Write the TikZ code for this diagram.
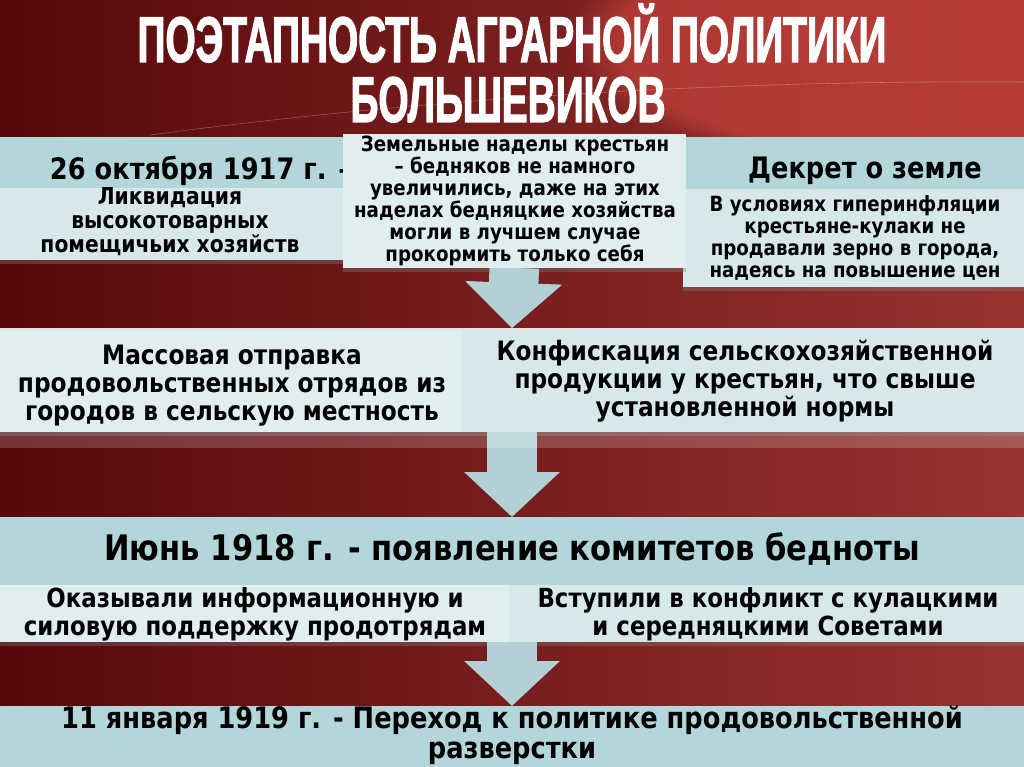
\documentclass[tikz,border=0pt]{standalone}
\usepackage{fontspec}
\newfontfamily\boxfont{DejaVu Sans Bold}[FakeStretch=0.87]
\newfontfamily\titlefont{Liberation Sans Bold}[FakeStretch=0.6,FakeBold=1.6]
\usetikzlibrary{arrows.meta,shadows,fadings}
\newdimen\pxu \pxu=0.025cm
\definecolor{bgdark}{RGB}{88,8,12}
\definecolor{bgmid}{RGB}{125,16,20}
\definecolor{bgright}{RGB}{152,52,48}
\definecolor{bghi}{RGB}{205,70,62}
\definecolor{hdrcol}{RGB}{178,214,218}
\definecolor{subcol}{RGB}{214,232,234}
\definecolor{notecol}{RGB}{224,238,240}
\definecolor{arrowcol}{RGB}{178,208,213}

\begin{document}
\begin{tikzpicture}[x=0.025cm, y=-0.025cm,
  band/.style={anchor=north west, inner sep=0pt, outer sep=0pt, fill=#1},
  boxshadow/.style={drop shadow={opacity=0.35, shadow xshift=0pt, shadow yshift=-3pt}},
  bigtext/.style={font=\boxfont\fontsize{21}{25}\selectfont},
  leftsubtext/.style={font=\boxfont\fontsize{16.6}{17}\selectfont, align=center},
  smalltext/.style={font=\boxfont\fontsize{14.9}{15.6}\selectfont, align=center},
  midtext/.style={font=\boxfont\fontsize{19}{19.9}\selectfont, align=center},
  junetextstyle/.style={font=\boxfont\fontsize{25}{28}\selectfont},
  subtext/.style={font=\boxfont\fontsize{18.7}{20}\selectfont, align=center},
  endtext/.style={font=\boxfont\fontsize{21}{21.5}\selectfont, align=center},
  titletext/.style={font=\titlefont\fontsize{46}{46}\selectfont, text=white},
  blockarrow/.style={draw=arrowcol, line width=34.9pt, -{Triangle[width=66.2pt, length=32pt]}}]
  \useasboundingbox (0,0) rectangle (1024,767);
  \clip (0,0) rectangle (1024,767);

  % background
  \shade[left color=bgdark, middle color=bgmid, right color=bgright] (0,0) rectangle (1024,767);
  \fill[bghi, opacity=0.6, path fading=circle with fuzzy edge 15 percent] (900,40) ellipse (330 and 130);
  \draw[white, opacity=0.3] (150,135) .. controls (450,95) and (750,80) .. (1024,82);

  % title
  \node[titletext, anchor=base] (title1) at (512,62) {ПОЭТАПНОСТЬ АГРАРНОЙ ПОЛИТИКИ};
  \node[titletext, anchor=base] (title2) at (508,122) {БОЛЬШЕВИКОВ};

  % row 1
  \node[band=hdrcol, minimum width=345\pxu, minimum height=51\pxu] (datehdr) at (0,137) {};
  \node[band=subcol, minimum width=345\pxu, minimum height=72\pxu, boxshadow] (datesub) at (0,188) {};
  \node[band=hdrcol, minimum width=338\pxu, minimum height=53\pxu] (decreehdr) at (686,137) {};
  \node[band=subcol, minimum width=341\pxu, minimum height=98\pxu, boxshadow] (decreesub) at (683,189) {};

  % arrows
  \draw[blockarrow] (514,268) coordinate (arr1) -- (512,328) coordinate (row2top);
  \node[band=subcol, minimum width=1024\pxu, minimum height=104\pxu, boxshadow] (row2) at (0,328) {};
  \node[band=hdrcol, minimum width=1024\pxu, minimum height=68\pxu] (row3) at (0,517) {};
  \draw[blockarrow] (row2.south) -- (row3.north);
  \node[band=subcol, minimum width=1024\pxu, minimum height=57\pxu, boxshadow] (row3sub) at (0,585) {};
  \node[band=hdrcol, minimum width=1024\pxu, minimum height=61\pxu] (row4) at (0,706) {};
  \draw[blockarrow] (row3sub.south) -- (row4.north);

  \node[band=notecol, minimum width=343\pxu, minimum height=134\pxu, boxshadow] (note) at (343,134) {};
  \draw[blockarrow] (note.south) -- (row2top);

  % row 2 halves
  \node[band=notecol, minimum width=462\pxu, minimum height=102\pxu] (mass) at (0,330) {};
  \node[band=subcol, minimum width=560\pxu, minimum height=102\pxu] (confisc) at (463,330) {};
  \fill[white, opacity=0.18] (0,432) rectangle (1024,448);

  % row 3 halves
  \node[band=notecol, minimum width=509\pxu, minimum height=57\pxu] (helped) at (0,585) {};
  \node[band=subcol, minimum width=513\pxu, minimum height=57\pxu] (conflict) at (511,585) {};

  % texts
  \node[bigtext, anchor=base west] (datetext) at (45,180) {26 октября 1917 г. –};
  \node[band=notecol, minimum width=343\pxu, minimum height=134\pxu] (notefront) at (343,134) {};
  \node[leftsubtext] (liquid) at (170,222) {Ликвидация\\высокотоварных\\помещичьих хозяйств};
  \node[smalltext] (notetext) at (515,201) {Земельные наделы крестьян\\– бедняков не намного\\увеличились, даже на этих\\наделах бедняцкие хозяйства\\могли в лучшем случае\\прокормить только себя};
  \node[bigtext, anchor=base] (decreetext) at (865,179) {Декрет о земле};
  \node[smalltext] (kulaks) at (855,238) {В условиях гиперинфляции\\крестьяне-кулаки не\\продавали зерно в города,\\надеясь на повышение цен};
  \node[midtext] (masstext) at (232,386) {Массовая отправка\\продовольственных отрядов из\\городов в сельскую местность};
  \node[midtext] (confisctext) at (745,381) {Конфискация сельскохозяйственной\\продукции у крестьян, что свыше\\установленной нормы};
  \node[junetextstyle, anchor=base] (junetext) at (512,560) {Июнь 1918 г. - появление комитетов бедноты};
  \node[subtext] (helpedtext) at (255,614) {Оказывали информационную и\\силовую поддержку продотрядам};
  \node[subtext] (conflicttext) at (768,614) {Вступили в конфликт с кулацкими\\и середняцкими Советами};
  \node[endtext] (endtext) at (512,735) {11 января 1919 г. - Переход к политике продовольственной\\разверстки};
\end{tikzpicture}
\end{document}
